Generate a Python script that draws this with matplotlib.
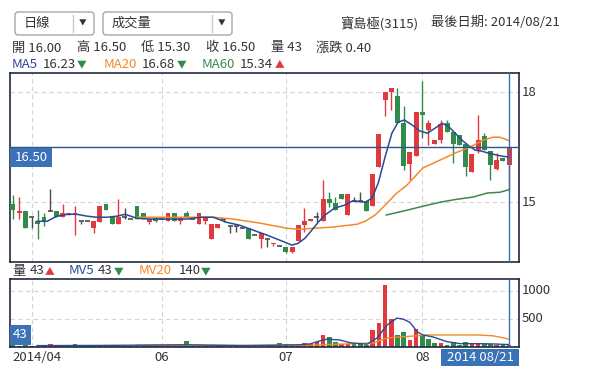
import numpy as np
import matplotlib.pyplot as plt
from matplotlib.patches import FancyBboxPatch, Rectangle

W, H = 616, 371
plt.rcParams['font.family'] = ['Noto Sans CJK TC', 'DejaVu Sans']

# 日K資料 (寶島極 3115), 讀自圖上
open_ = [14.95, 14.70, 14.75, 14.60, 14.50, 14.60, 14.75, 14.75, 14.60, 14.65,
         14.65, 14.50, 14.50, 14.30, 14.45, 14.95, 14.60, 14.40, 14.60, 14.55,
         14.90, 14.70, 14.45, 14.60, 14.55, 14.50, 14.70, 14.50, 14.70, 14.55,
         14.40, 14.50, 14.00, 14.30, 14.55, 14.35, 14.35, 14.30, 14.30, 14.10,
         14.00, 14.00, 13.85, 13.80, 13.78, 13.65, 13.95, 14.38, 14.50, 14.60,
         14.50, 15.10, 14.97, 15.22, 14.65, 15.03, 15.03, 15.03, 14.90, 15.95,
         17.78, 18.00, 17.89, 17.15, 16.04, 16.25, 17.45, 16.96, 16.58, 16.69,
         17.15, 16.91, 16.83, 16.58, 15.82, 16.39, 16.80, 16.39, 15.90, 16.20,
         16.00]
high = [15.20, 15.15, 14.75, 14.60, 14.80, 14.70, 15.35, 14.75, 14.95, 14.70,
        14.90, 14.50, 14.50, 14.50, 14.90, 14.95, 14.60, 15.10, 14.85, 14.55,
        14.90, 14.70, 14.55, 14.60, 14.55, 14.70, 14.70, 14.60, 14.75, 14.55,
        14.70, 14.60, 14.40, 14.40, 14.55, 14.35, 14.35, 14.30, 14.30, 14.10,
        14.15, 14.00, 13.90, 13.80, 13.78, 13.78, 14.38, 14.85, 14.55, 14.72,
        15.60, 15.27, 15.15, 15.22, 15.22, 15.15, 15.27, 15.03, 15.78, 16.85,
        18.00, 18.11, 18.11, 17.62, 16.36, 17.45, 18.30, 17.24, 16.69, 17.24,
        17.24, 16.91, 16.83, 16.58, 16.31, 17.37, 16.88, 16.39, 16.34, 16.20,
        16.50]
low = [14.55, 14.55, 14.30, 14.30, 14.00, 14.35, 14.75, 14.60, 14.60, 14.65,
       14.10, 14.40, 14.50, 14.15, 14.45, 14.80, 14.40, 14.40, 14.55, 14.55,
       14.55, 14.55, 14.40, 14.45, 14.55, 14.50, 14.50, 14.40, 14.60, 14.55,
       14.40, 14.40, 14.00, 14.30, 14.45, 14.15, 14.20, 14.30, 14.00, 14.10,
       13.75, 13.78, 13.80, 13.80, 13.62, 13.62, 13.95, 14.20, 14.50, 14.45,
       14.50, 14.86, 14.80, 15.10, 14.65, 15.03, 15.03, 14.75, 14.90, 15.95,
       17.35, 17.51, 17.15, 15.87, 15.60, 16.25, 16.75, 16.55, 16.58, 16.60,
       16.91, 16.06, 16.55, 15.71, 15.82, 16.34, 16.42, 15.60, 15.87, 16.12,
       15.30]
close = [14.80, 14.75, 14.30, 14.60, 14.40, 14.50, 14.75, 14.60, 14.70, 14.70,
         14.70, 14.50, 14.50, 14.50, 14.90, 14.80, 14.40, 14.60, 14.60, 14.55,
         14.55, 14.55, 14.55, 14.50, 14.55, 14.70, 14.50, 14.60, 14.60, 14.55,
         14.70, 14.60, 14.40, 14.40, 14.55, 14.35, 14.35, 14.30, 14.00, 14.10,
         14.15, 14.00, 13.90, 13.80, 13.65, 13.78, 14.38, 14.50, 14.55, 14.60,
         15.10, 14.97, 14.80, 15.10, 15.22, 15.03, 15.03, 14.75, 15.78, 16.85,
         18.00, 18.11, 17.15, 15.98, 16.36, 17.45, 17.37, 17.15, 16.69, 17.13,
         16.91, 16.58, 16.55, 15.95, 16.31, 16.69, 16.42, 16.01, 16.15, 16.12,
         16.50]
volume = [30, 25, 30, 20, 25, 30, 55, 25, 30, 25,
          50, 20, 20, 30, 35, 30, 25, 30, 20, 20,
          35, 25, 25, 20, 15, 20, 20, 25, 110, 20,
          25, 20, 35, 20, 15, 15, 15, 10, 25, 15,
          25, 15, 20, 75, 55, 20, 25, 75, 55, 90,
          215, 180, 95, 60, 60, 60, 50, 40, 300, 430,
          1110, 500, 215, 270, 125, 330, 220, 150, 75, 80,
          30, 90, 40, 95, 55, 75, 50, 45, 40, 40,
          43]

# 均線 (位置為K棒序號)
ma5_i = [3.9, 5.5, 7.1, 8.9, 10.3, 11.9, 13.5, 15.2, 16.8, 18.1, 20.0, 22.1,
         24.8, 28.1, 30.2, 32.3, 34.5, 36.6, 38.7, 41.0, 43.1, 45.0, 46.0, 47.1,
         48.2, 49.2, 50.3, 51.9, 53.5, 54.7, 56.8, 57.9, 58.9, 60.0, 61.1, 62.1,
         63.1, 64.4, 65.6, 66.8, 68.1, 69.2, 70.2, 71.3, 72.4, 73.4, 74.5, 75.6,
         76.6, 78.1, 79.0, 80.0]
ma5_v = [14.48, 14.48, 14.62, 14.67, 14.67, 14.62, 14.59, 14.59, 14.62, 14.67,
         14.56, 14.54, 14.54, 14.54, 14.59, 14.59, 14.45, 14.37, 14.24, 14.10,
         13.96, 13.83, 13.88, 14.02, 14.24, 14.45, 14.65, 14.84, 14.92, 15.03,
         15.00, 15.11, 15.52, 16.23, 16.88, 17.18, 17.24, 17.10, 16.94, 16.88,
         17.02, 17.15, 17.07, 16.88, 16.69, 16.55, 16.42, 16.39, 16.34, 16.28,
         16.25, 16.23]
ma20_i = [20.0, 25.3, 32.3, 35.5, 39.8, 44.2, 46.0, 48.7, 51.5, 54.0, 55.5, 56.8,
          58.4, 60.3, 61.9, 63.5, 66.1, 68.9, 71.6, 73.7, 75.8, 77.4, 78.5, 80.0]
ma20_v = [14.59, 14.59, 14.59, 14.54, 14.43, 14.29, 14.26, 14.29, 14.32, 14.37,
          14.40, 14.48, 14.65, 14.97, 15.25, 15.46, 15.93, 16.15, 16.36, 16.50,
          16.69, 16.77, 16.77, 16.68]
ma60_i = [60.2, 63.5, 66.1, 68.9, 71.6, 74.2, 76.5, 78.5, 80.0]
ma60_v = [14.65, 14.78, 14.89, 15.00, 15.08, 15.14, 15.25, 15.27, 15.34]

mv5_i = [3.9, 14.0, 27.9, 37.0, 46.3, 47.9, 49.5, 50.6, 52.7, 54.4, 57.1, 58.7,
         60.3, 61.9, 62.9, 64.0, 65.2, 66.1, 67.7, 70.0, 72.1, 74.8, 77.4, 80.0]
mv5_v = [25, 28, 40, 25, 40, 55, 110, 140, 125, 75, 50, 160,
         390, 515, 500, 440, 270, 215, 180, 95, 60, 60, 55, 43]
mv20_i = [20.0, 30.0, 40.0, 48.0, 54.0, 58.1, 60.3, 62.4, 65.2, 66.8, 70.0, 74.8,
          77.4, 79.0, 80.0]
mv20_v = [30, 30, 28, 35, 55, 75, 160, 180, 200, 215, 215, 215, 200, 165, 140]

month_idx = [3, 24, 44, 66]
month_lab = ['2014/04', '06', '07', '08']

RED = '#e0393e'
GREEN = '#2f8c4b'
DOJI = '#4a4a4a'
C_MA5 = '#2b4a94'
C_MA20 = '#f28a2a'
C_MA60 = '#3f8650'
HILITE = '#3a72b8'
FRAME = '#1e2c3c'
GRID = '#d4d4d4'
TXT = '#333333'
FS = 9.5

n = len(close)
idx = np.arange(n)

fig = plt.figure(figsize=(W / 100, H / 100), dpi=100)


def px_axes(x0, y0, x1, y1, **kw):
    return fig.add_axes([x0 / W, 1 - y1 / H, (x1 - x0) / W, (y1 - y0) / H], **kw)


ax = px_axes(10, 73, 519, 262)
axv = px_axes(10, 279, 519, 347)

for a in (ax, axv):
    a.set_xlim(-0.48, 81.6)
    a.set_xticks([])
    a.set_yticks([])
    for s in a.spines.values():
        s.set_color(FRAME)
        s.set_linewidth(1.2)
    for m in month_idx:
        a.axvline(m, color=GRID, lw=0.8, dashes=(4, 3), zorder=0)
    a.axvline(idx[-1], color=HILITE, lw=1.0, zorder=5)

ax.set_ylim(13.37, 18.52)
axv.set_ylim(0, 1214)
for v in (15, 18):
    ax.axhline(v, color=GRID, lw=0.8, dashes=(4, 3), zorder=0)
    ax.text(1.006, v, str(v), transform=ax.get_yaxis_transform(),
            va='center', ha='left', fontsize=FS, color=TXT)
for v in (500, 1000):
    axv.axhline(v, color=GRID, lw=0.8, dashes=(4, 3), zorder=0)
    axv.text(1.006, v, str(v), transform=axv.get_yaxis_transform(),
             va='center', ha='left', fontsize=FS, color=TXT)

# K棒
for i in idx:
    o, h, l, c = open_[i], high[i], low[i], close[i]
    col = RED if c > o else GREEN if c < o else DOJI
    ax.vlines(i, l, h, color=col, lw=1, zorder=2)
    if c == o:
        ax.hlines(c, i - 0.4, i + 0.4, color=col, lw=1.2, zorder=2)
    else:
        ax.bar(i, abs(c - o), bottom=min(o, c), width=0.8, color=col, zorder=3, lw=0)

ax.plot(ma20_i, ma20_v, color=C_MA20, lw=1.1, zorder=4)
ax.plot(ma60_i, ma60_v, color=C_MA60, lw=1.1, zorder=4)
ax.plot(ma5_i, ma5_v, color=C_MA5, lw=1.1, zorder=4)

ax.axhline(close[-1], color='#2d5590', lw=1.0, zorder=5)

# 成交量
vcol = []
for i in idx:
    prev = close[i - 1] if i > 0 else open_[0]
    vcol.append(RED if close[i] > prev else GREEN)
axv.bar(idx, volume, width=0.75, color=vcol, zorder=2, lw=0)
axv.plot(mv20_i, mv20_v, color=C_MA20, lw=1.0, zorder=3)
axv.plot(mv5_i, mv5_v, color=C_MA5, lw=1.0, zorder=3)

for m, lab in zip(month_idx, month_lab):
    if m == month_idx[0]:
        axv.text(0.004, -0.15, lab, transform=axv.transAxes, ha='left',
                 va='center', fontsize=FS, color=TXT)
    else:
        axv.text(m, -0.15, lab, transform=axv.get_xaxis_transform(), ha='center',
                 va='center', fontsize=FS, color=TXT)

# 上方介面與標示
ov = fig.add_axes([0, 0, 1, 1], zorder=10)
ov.set_xlim(0, W)
ov.set_ylim(H, 0)
ov.axis('off')
ov.patch.set_alpha(0)

for x0, x1, sep, lab in [(15, 94, 73, '日線'), (103, 232, 212, '成交量')]:
    ov.add_patch(FancyBboxPatch((x0, 12), x1 - x0, 23, boxstyle='round,pad=0,rounding_size=3',
                                fc='white', ec='#a8a8a8', lw=1))
    ov.plot([sep, sep], [15, 32], color='#c8c8c8', lw=1)
    ov.text(x0 + 9, 23.5, lab, fontsize=FS, va='center', ha='left', color=TXT)
    ov.text(sep + 10, 24, '▼', fontsize=5.5, va='center', ha='center', color='#333333')

ov.text(340, 23, '寶島極(3115)', fontsize=FS, va='center', ha='left', color=TXT)
ov.text(431, 23, '最後日期: 2014/08/21', fontsize=FS, va='center', ha='left', color=TXT)

line1 = [(12, '開 16.00'), (77, '高 16.50'), (141, '低 15.30'), (206, '收 16.50'),
         (271, '量 43'), (316, '漲跌 0.40')]
for x, t in line1:
    ov.text(x, 48, t, fontsize=FS, va='center', ha='left', color=TXT)

line2 = [(12, 'MA5', C_MA5), (43, '16.23', TXT), (77, '▼', GREEN),
         (104, 'MA20', C_MA20), (142, '16.68', TXT), (177, '▼', GREEN),
         (202, 'MA60', C_MA60), (240, '15.34', TXT), (275, '▲', RED)]
for x, t, c in line2:
    ov.text(x, 64, t, fontsize=FS if t not in '▼▲' else 7, va='center', ha='left', color=c)

line3 = [(12, '量', TXT), (30, '43', TXT), (45, '▲', RED),
         (69, 'MV5', C_MA5), (98, '43', TXT), (114, '▼', GREEN),
         (139, 'MV20', C_MA20), (179, '140', TXT), (201, '▼', GREEN)]
for x, t, c in line3:
    ov.text(x, 271, t, fontsize=FS if t not in '▼▲' else 7, va='center', ha='left', color=c)

# 最新價標籤
ov.add_patch(Rectangle((10, 148), 42, 19, fc=HILITE, ec='none'))
ov.text(31, 157.5, f'{close[-1]:.2f}', fontsize=FS, color='white', ha='center', va='center')
ov.add_patch(Rectangle((10, 325), 21, 20, fc=HILITE, ec='none'))
ov.text(20.5, 335, str(volume[-1]), fontsize=FS, color='white', ha='center', va='center')
ov.add_patch(Rectangle((441, 349), 78, 17, fc=HILITE, ec='none'))
ov.text(480, 357.5, '2014 08/21', fontsize=FS, color='white', ha='center', va='center')

fig.savefig('out.png', dpi=100)
